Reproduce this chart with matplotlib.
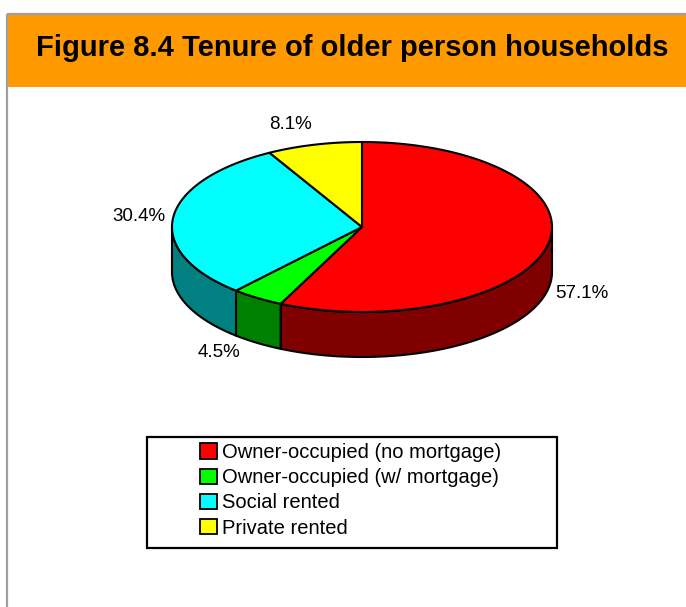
import numpy as np
import matplotlib.pyplot as plt
from matplotlib.patches import Polygon, Rectangle, Patch

# data
categories = ['Owner-occupied (no mortgage)', 'Owner-occupied (w/ mortgage)',
              'Social rented', 'Private rented']
shares = [57.1, 4.5, 30.4, 8.1]
pct_labels = ['57.1%', '4.5%', '30.4%', '8.1%']
top_colors = ['#FF0000', '#00FF00', '#00FFFF', '#FFFF00']
side_colors = ['#800000', '#008000', '#008080', '#808000']

W, H = 686, 607
fig = plt.figure(figsize=(W / 100, H / 100), dpi=100)
ax = fig.add_axes([0, 0, 1, 1])
ax.set_xlim(0, W)
ax.set_ylim(H, 0)
ax.axis('off')

# frame and orange header
ax.add_patch(Rectangle((7, 14), W - 7, 73, facecolor='#FF9900', edgecolor='none'))
ax.plot([7, 7], [14, H], color='#A0A0A0', lw=1.6, solid_capstyle='butt')
ax.plot([7, W], [14, 14], color='#A0A0A0', lw=1.6, solid_capstyle='butt')
ax.text(352, 56, 'Figure 8.4 Tenure of older person households', ha='center', va='baseline',
        fontsize=21, fontweight='bold', family=['Liberation Sans', 'DejaVu Sans'])

# 3D pie geometry
cx, cy, rx, ry, depth = 362, 227, 190, 85, 45
bounds = 90 - 360 * np.cumsum([0] + shares) / sum(shares)


def ell(a, dy=0):
    t = np.radians(a)
    return np.column_stack([cx + rx * np.cos(t), cy - ry * np.sin(t) + dy])


# side walls (front half only)
for i in range(len(shares)):
    a0, a1 = bounds[i], bounds[i + 1]
    hi, lo = min(a0, 0), max(a1, -180)
    if lo < hi:
        arc = np.linspace(hi, lo, 120)
        pts = np.vstack([ell(arc), ell(arc[::-1], depth)])
        ax.add_patch(Polygon(pts, closed=True, facecolor=side_colors[i],
                             edgecolor='black', lw=1.5, joinstyle='round'))

# top faces
for i in range(len(shares)):
    arc = np.linspace(bounds[i], bounds[i + 1], 200)
    pts = np.vstack([[cx, cy], ell(arc)])
    ax.add_patch(Polygon(pts, closed=True, facecolor=top_colors[i],
                         edgecolor='black', lw=1.5, joinstyle='round'))

# percentage labels
for i in range(len(shares)):
    mid = np.radians((bounds[i] + bounds[i + 1]) / 2)
    c, s = np.cos(mid), np.sin(mid)
    x = cx + (rx + 8) * c - (12 if (c < -0.2 and s < 0) else 0)
    y = cy - (ry + 12) * s + (depth if s < 0 else 0)
    ha = 'left' if c > 0.2 else ('right' if c < -0.2 else 'center')
    va = 'bottom' if s > 0.5 else 'center'
    ax.text(x, y, pct_labels[i], ha=ha, va=va, fontsize=13.5,
            family=['Liberation Sans', 'DejaVu Sans'])

# legend
ax.add_patch(Rectangle((147, 437), 410, 111, facecolor='white', edgecolor='black', lw=1.6))
handles = [Patch(facecolor=c, edgecolor='black', lw=1.3) for c in top_colors]
ax.legend(handles, categories, loc='upper left', bbox_to_anchor=(200, 443),
          bbox_transform=ax.transData, frameon=False, borderpad=0, borderaxespad=0,
          handlelength=0.85, handleheight=0.8, handletextpad=0.25, labelspacing=0.31,
          prop={'family': ['Liberation Sans', 'DejaVu Sans'], 'size': 14.5})

fig.savefig('out.png', dpi=100)
